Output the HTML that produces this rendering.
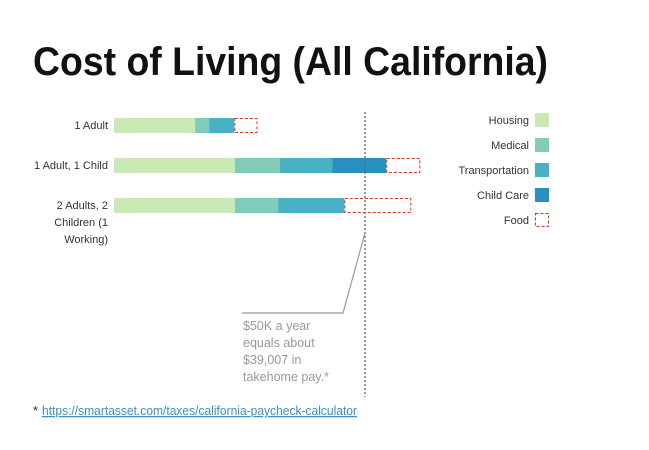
<!DOCTYPE html>
<html><head><meta charset="utf-8"><style>
body{margin:0;background:#fff;width:649px;height:445px;overflow:hidden;font-family:"Liberation Sans",sans-serif}
</style></head><body>
<svg id="chart" width="649" height="445" xmlns="http://www.w3.org/2000/svg">
<text x="33" y="75" font-size="40" font-weight="bold" fill="#111" textLength="515" lengthAdjust="spacingAndGlyphs">Cost of Living (All California)</text>
<g id="bars"></g>
<g id="legend"></g>
<line x1="365" y1="112" x2="365" y2="397" stroke="#666" stroke-width="1.3" stroke-dasharray="2,2"/>
<polyline points="365,233 343,313 242,313" fill="none" stroke="#999" stroke-width="1.2"/>
<g font-size="12.5" fill="#999">
<text x="243" y="330">$50K a year</text>
<text x="243" y="347">equals about</text>
<text x="243" y="364">$39,007 in</text>
<text x="243" y="381">takehome pay.*</text>
</g>
<text x="33" y="415" font-size="12.5" fill="#333">* </text>
<text x="42" y="415" font-size="12.5" fill="#3a8fc8" text-decoration="underline" textLength="315" lengthAdjust="spacingAndGlyphs">https://smartasset.com/taxes/california-paycheck-calculator</text>
</svg>
<script>
const categories = ["1 Adult", "1 Adult, 1 Child", "2 Adults, 2 Children (1 Working)"];
const seriesNames = ["Housing", "Medical", "Transportation", "Child Care", "Food"];
const housing = [12.6, 18.8, 18.8];
const medical = [2.2, 7.0, 6.7];
const transportation = [3.9, 8.1, 10.3];
const childCare = [0, 8.4, 0];
const food = [3.6, 5.3, 10.4];
const takehome = 39.007;

const colors = ["#c8e8b4", "#82cbb8", "#48b2c4", "#2890c0", "none"];
const NS = "http://www.w3.org/2000/svg";
const x0 = 114, xRef = 365;
const xs = v => x0 + v * (xRef - x0) / takehome;
const rowY = i => 118 + i * 40;
const series = [housing, medical, transportation, childCare, food];
const bars = document.getElementById("bars");
const labelLines = [["1 Adult"], ["1 Adult, 1 Child"], ["2 Adults, 2", "Children (1", "Working)"]];
categories.forEach((c, i) => {
  const t = document.createElementNS(NS, "text");
  
  
  t.setAttribute("text-anchor", "end");
  t.setAttribute("font-size", "11");
  t.setAttribute("fill", "#333");
  labelLines[i].forEach((l, k) => {
    const ts = document.createElementNS(NS, "tspan");
    ts.setAttribute("x", 108);
    ts.setAttribute("y", rowY(i) + 11 + k * 17);
    ts.textContent = l;
    t.appendChild(ts);
  });
  bars.appendChild(t);
  let acc = 0;
  series.forEach((s, j) => {
    const v = s[i];
    if (v <= 0) return;
    const r = document.createElementNS(NS, "rect");
    
    
    const a = xs(acc), b = xs(acc + v);
    r.setAttribute("y", rowY(i));
    r.setAttribute("height", 15);
    if (j === 4) {
      r.setAttribute("x", a + 0.5); r.setAttribute("width", b - a - 1);
      r.setAttribute("y", rowY(i) + 0.5); r.setAttribute("height", 14);
      r.setAttribute("fill", "none"); r.setAttribute("stroke", "#e03020");
      r.setAttribute("stroke-dasharray", "3,2");
    } else {
      r.setAttribute("x", a); r.setAttribute("width", b - a);
      r.setAttribute("fill", colors[j]);
    }
    bars.appendChild(r);
    acc += v;
  });
});
const legend = document.getElementById("legend");
seriesNames.forEach((n, j) => {
  const y = 113 + j * 25;
  const t = document.createElementNS(NS, "text");
  
  
  t.setAttribute("x", 529); t.setAttribute("y", y + 11);
  t.setAttribute("text-anchor", "end"); t.setAttribute("font-size", "11"); t.setAttribute("fill", "#333");
  t.textContent = n;
  legend.appendChild(t);
  const r = document.createElementNS(NS, "rect");
  
  
  if (j === 4) {
    r.setAttribute("x", 535.5); r.setAttribute("y", y + 0.5); r.setAttribute("width", 13); r.setAttribute("height", 13);
    r.setAttribute("fill", "none"); r.setAttribute("stroke", "#e03020"); r.setAttribute("stroke-dasharray", "3,2");
  } else {
    r.setAttribute("x", 535); r.setAttribute("y", y); r.setAttribute("width", 14); r.setAttribute("height", 14);
    r.setAttribute("fill", colors[j]);
  }
  legend.appendChild(r);
});
</script>
</body></html>
